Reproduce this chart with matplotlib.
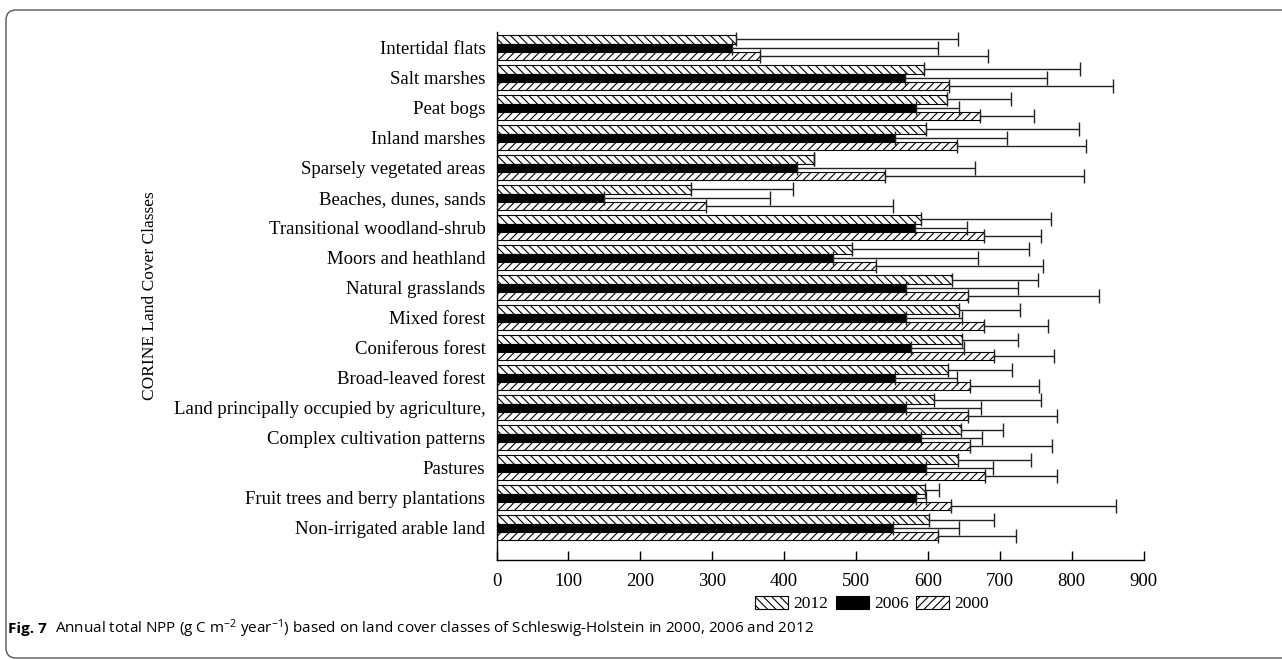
import numpy as np
import matplotlib
matplotlib.use("Agg")
import matplotlib.pyplot as plt
from matplotlib.patches import Patch, FancyBboxPatch

cats = ["Intertidal flats", "Salt marshes", "Peat bogs", "Inland marshes",
        "Sparsely vegetated areas", "Beaches, dunes, sands",
        "Transitional woodland-shrub", "Moors and heathland",
        "Natural grasslands", "Mixed forest", "Coniferous forest",
        "Broad-leaved forest", "Land principally occupied by agriculture,",
        "Complex cultivation patterns", "Pastures",
        "Fruit trees and berry plantations", "Non-irrigated arable land"]

npp_2012 = [333, 595, 626, 597, 442, 270, 590, 494, 634, 644, 648, 628, 609, 646, 642, 596, 602]
sd_2012 = [309, 217, 89, 213, 0, 143, 181, 247, 119, 84, 78, 89, 149, 59, 101, 19, 90]
npp_2006 = [328, 568, 583, 555, 418, 150, 582, 468, 569, 569, 576, 555, 569, 591, 597, 583, 552]
sd_2006 = [286, 198, 60, 155, 248, 230, 72, 202, 156, 79, 75, 85, 105, 84, 93, 15, 91]
npp_2000 = [367, 630, 673, 640, 541, 291, 678, 528, 656, 678, 692, 658, 656, 659, 679, 632, 614]
sd_2000 = [317, 228, 75, 180, 276, 260, 79, 232, 182, 89, 84, 97, 123, 114, 101, 230, 108]

years = ["2012", "2006", "2000"]
xticks = [0, 100, 200, 300, 400, 500, 600, 700, 800, 900]

plt.rcParams["font.family"] = ["Liberation Serif", "DejaVu Serif"]
plt.rcParams["hatch.linewidth"] = 0.8
plt.rcParams["mathtext.fontset"] = "custom"
plt.rcParams["mathtext.rm"] = "Open Sans"
plt.rcParams["mathtext.it"] = "Open Sans:italic"

W, H = 1282, 660
fig = plt.figure(figsize=(W / 100, H / 100), dpi=100)
ax = fig.add_axes([496.5 / W, 1 - 560 / H, (1143.5 - 496.5) / W, (560 - 32) / H])

y = np.arange(len(cats))
h = 0.27
styles = [dict(color="white", hatch="\\\\\\\\"),
          dict(color="black", hatch=None),
          dict(color="white", hatch="////")]
vals = [npp_2012, npp_2006, npp_2000]
sds = [sd_2012, sd_2006, sd_2000]
offs = [-0.28, 0, 0.28]
for v, s, o, st in zip(vals, sds, offs, styles):
    ax.barh(y + o, v, height=h, color=st["color"], hatch=st["hatch"],
            edgecolor="black", linewidth=0.8, zorder=2)
    ax.errorbar(v, y + o, xerr=[np.zeros(len(v)), s], fmt="none",
                ecolor="#222222", elinewidth=1.0, capsize=5, capthick=1.0, zorder=3)

ax.set_ylim(len(cats) - 1 + 1.07, -0.53)
ax.set_xlim(0, 900)
ax.set_xticks(xticks)
ax.set_yticks(y)
ax.set_yticklabels(cats)
ax.tick_params(axis="y", length=0, pad=8, labelsize=13.5)
ax.tick_params(axis="x", direction="in", length=6.5, width=1, pad=9, labelsize=13.5)
for sp in ["top", "right"]:
    ax.spines[sp].set_visible(False)
for sp in ["left", "bottom"]:
    ax.spines[sp].set_linewidth(1.0)

fig.text(150 / W, 1 - 296 / H, "CORINE Land Cover Classes", rotation=90,
         ha="center", va="center", fontsize=12.5)

handles = [Patch(facecolor=st["color"], hatch=st["hatch"], edgecolor="black",
                 linewidth=0.8) for st in styles]
fig.legend(handles, years, loc="center", bbox_to_anchor=(872 / W, 1 - 604 / H), ncol=3,
           frameon=False, fontsize=12.5, handlelength=1.9, handleheight=0.85,
           handletextpad=0.3, columnspacing=0.45)

# caption
cap_font = ["Open Sans", "DejaVu Sans"]
cy = 1 - 629 / H
t = fig.text(8 / W, cy, "Fig. 7", fontsize=11, fontweight="bold",
             family=cap_font, va="center", ha="left")
fig.canvas.draw()
bb = t.get_window_extent()
fig.text((bb.x1 + 8) / W, cy,
         r"Annual total NPP (g C m$^{-2}$ year$^{-1}$) based on land cover classes of Schleswig-Holstein in 2000, 2006 and 2012",
         fontsize=11, family=cap_font, va="center", ha="left")

box = FancyBboxPatch((0.06, 0.02), 13.0, 6.48,
                     boxstyle="round,pad=0,rounding_size=0.1",
                     transform=fig.dpi_scale_trans, fill=False,
                     edgecolor="#555555", linewidth=1.0)
fig.add_artist(box)

fig.savefig("out.png", dpi=100)
